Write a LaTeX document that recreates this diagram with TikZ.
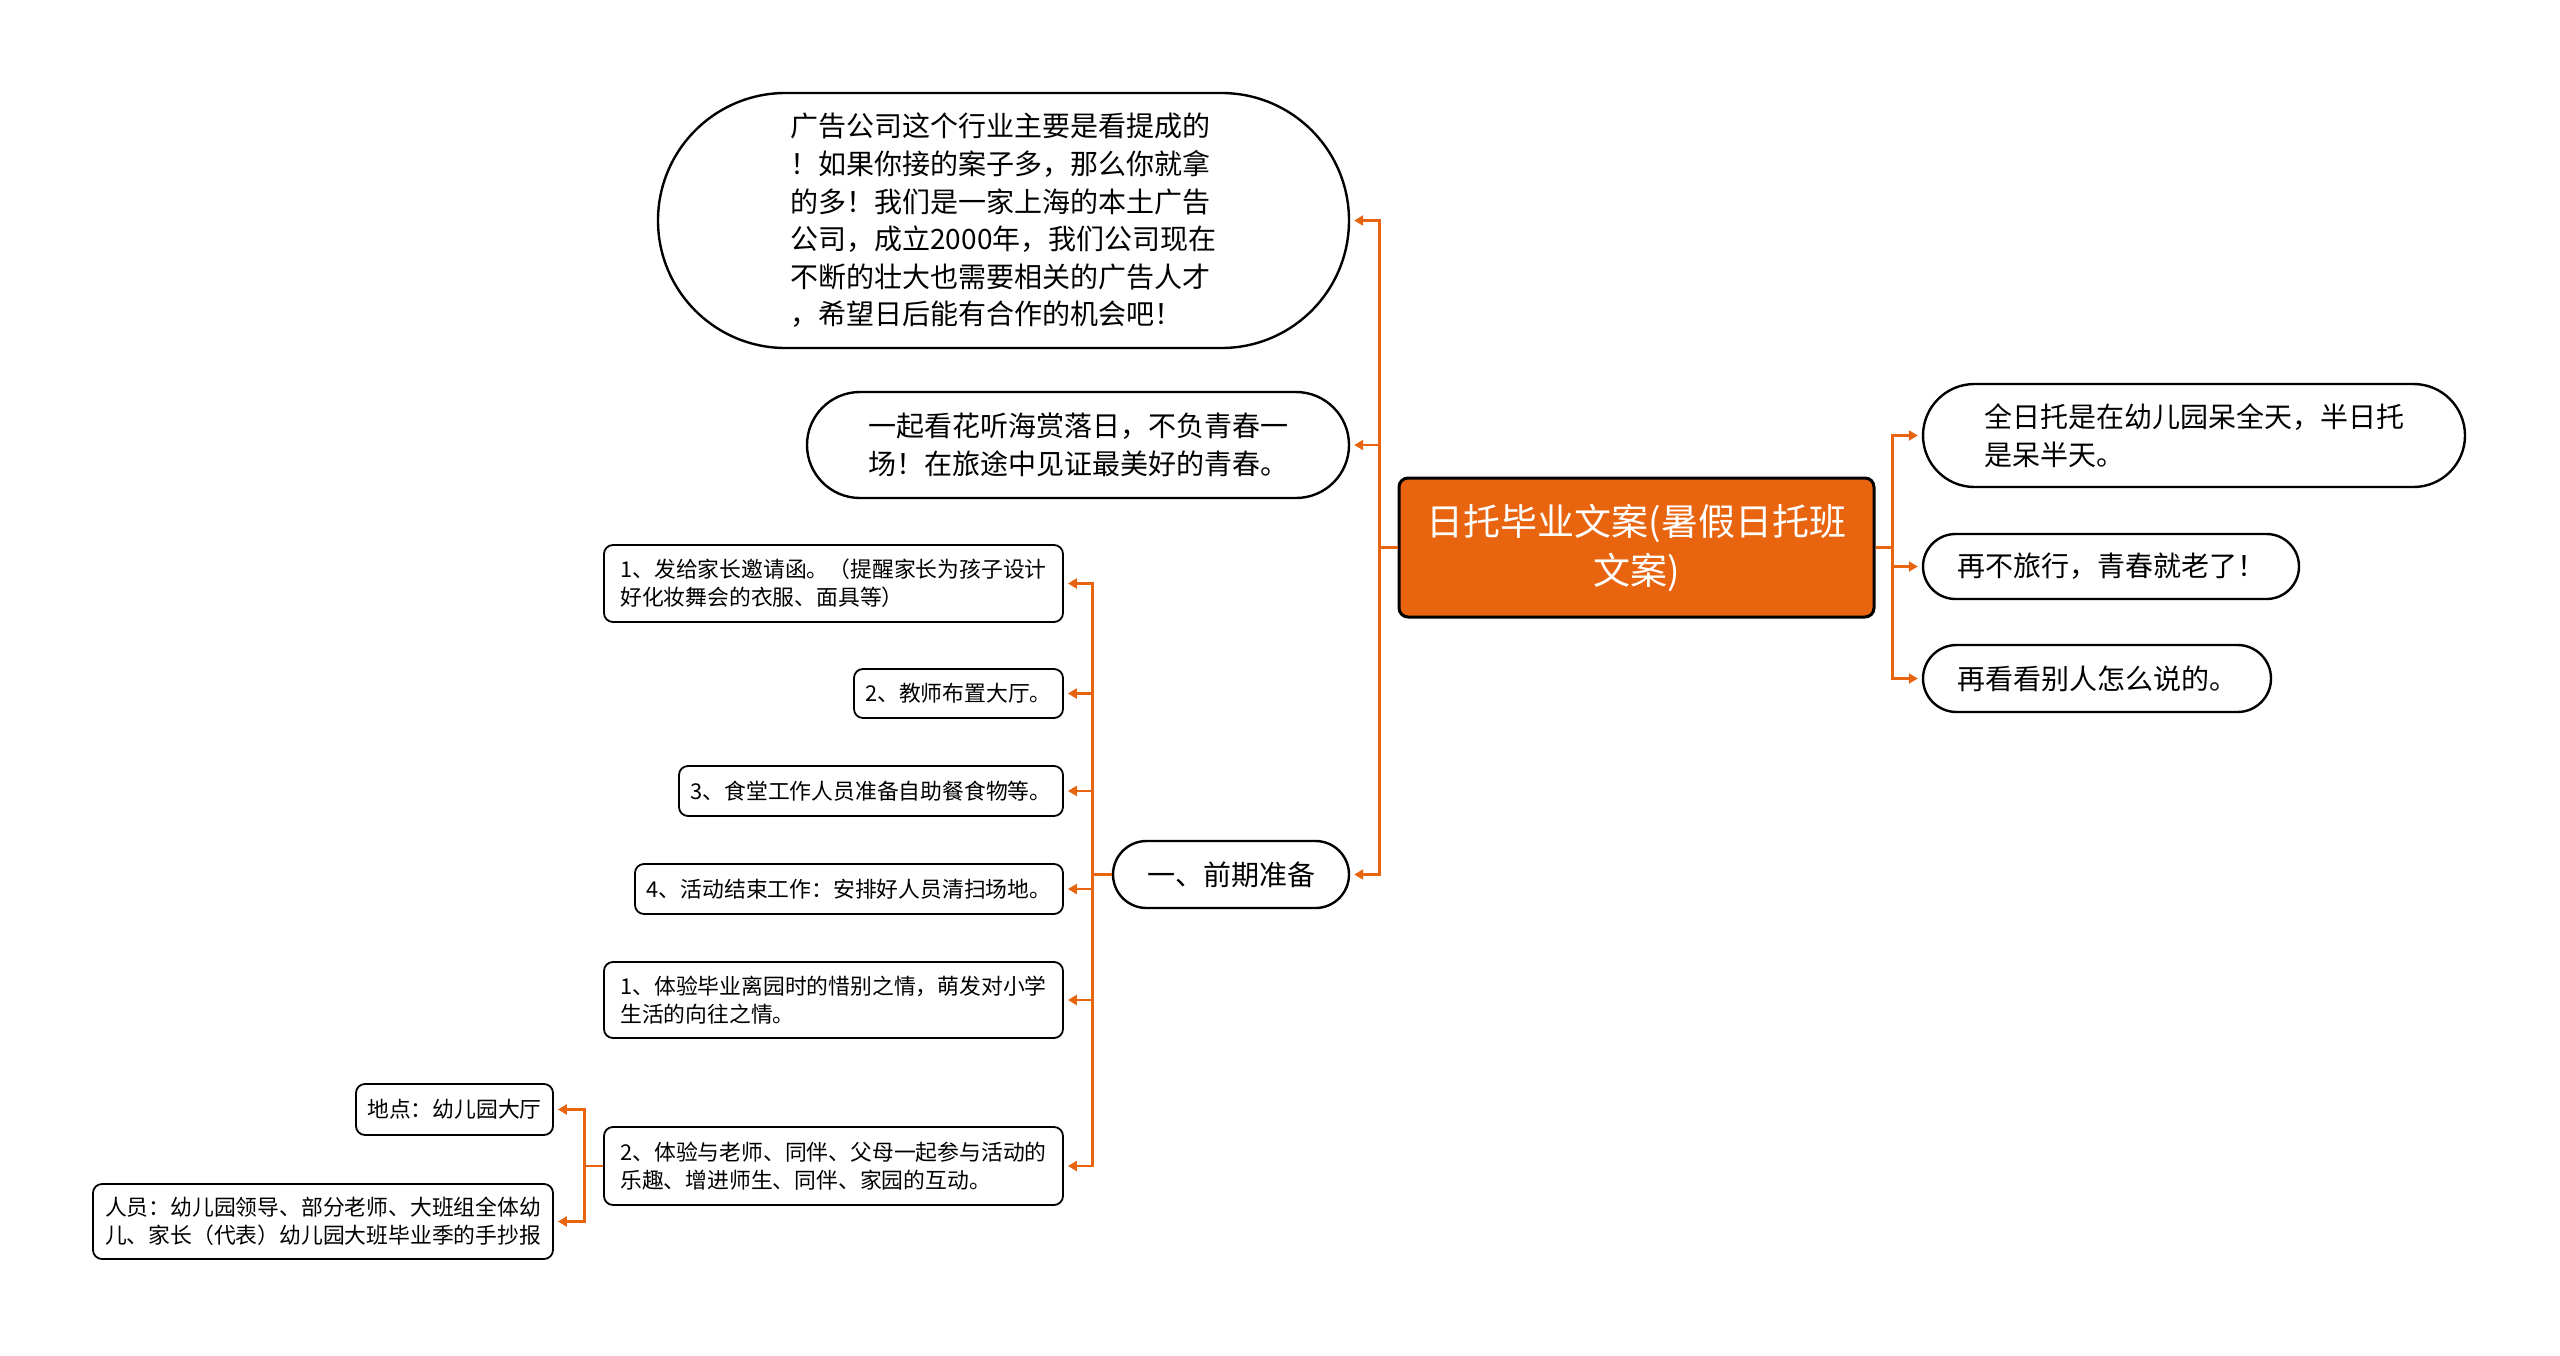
\documentclass[tikz,border=0pt]{standalone}
\usepackage{fontspec}
\newfontfamily\cjk{Noto Sans CJK SC}
\usepackage{xcolor}
\usetikzlibrary{arrows.meta,shapes.misc}
\definecolor{mainorange}{HTML}{E8640F}

\begin{document}
\begin{tikzpicture}[x=1pt, y=-1pt,
  boxsize/.style 2 args={minimum width=#1pt, minimum height=#2pt},
  rootbox/.style={rectangle, rounded corners=9pt, draw=black, line width=3pt, fill=mainorange,
    text=white, align=center, inner sep=0pt, font=\cjk\fontsize{37}{49}\selectfont},
  pill/.style={rounded rectangle, draw=black, line width=2.4pt, fill=white, align=left,
    inner sep=0pt, font=\cjk\fontsize{28}{37.6}\selectfont},
  card/.style={rectangle, rounded corners=9pt, draw=black, line width=1.8pt, fill=white,
    align=left, inner sep=0pt, font=\cjk\fontsize{21.8}{28}\selectfont},
  link/.style={draw=mainorange, line width=2.8pt, -{Triangle[length=9pt,width=10pt]}, shorten >=4pt}]
  \useasboundingbox (0,0) rectangle (2560,1355);

  % Root
  \node[rootbox, boxsize={475}{139}] (root) at (1636.5,547.5) {日托毕业文案(暑假日托班\\文案)};

  % Right branch
  \node[pill, boxsize={542}{103}] (fullday) at (2194,435.5) {全日托是在幼儿园呆全天，半日托\\是呆半天。};
  \node[pill, boxsize={376}{65}] (travel) at (2111,566.5) {再不旅行，青春就老了！};
  \node[pill, boxsize={348}{67}] (others) at (2097,678.5) {再看看别人怎么说的。};

  % Left branch
  \node[pill, boxsize={691}{255}] (adco) at (1003.5,220.5) {广告公司这个行业主要是看提成的\\
    ！如果你接的案子多，那么你就拿\\
    的多！我们是一家上海的本土广告\\
    公司，成立2000年，我们公司现在\\
    不断的壮大也需要相关的广告人才\\
    ，希望日后能有合作的机会吧！};
  \node[pill, boxsize={542}{106}] (youth) at (1078,445) {一起看花听海赏落日，不负青春一\\场！在旅途中见证最美好的青春。};
  \node[pill, boxsize={236}{67}, align=center] (prep) at (1231,874.5) {一、前期准备};

  % Preparation items
  \node[card, boxsize={459}{77}] (invite) at (833.5,583.5) {1、发给家长邀请函。（提醒家长为孩子设计\\好化妆舞会的衣服、面具等）};
  \node[card, boxsize={209}{49}] (hall) at (958.5,693.5) {2、教师布置大厅。};
  \node[card, boxsize={384}{50}] (food) at (871,791) {3、食堂工作人员准备自助餐食物等。};
  \node[card, boxsize={428}{50}] (clean) at (849,889) {4、活动结束工作：安排好人员清扫场地。};
  \node[card, boxsize={459}{76}] (farewell) at (833.5,1000) {1、体验毕业离园时的惜别之情，萌发对小学\\生活的向往之情。};
  \node[card, boxsize={459}{78}] (fun) at (833.5,1166) {2、体验与老师、同伴、父母一起参与活动的\\乐趣、增进师生、同伴、家园的互动。};

  % Place and people
  \node[card, boxsize={197}{51}] (place) at (454.5,1109.5) {地点：幼儿园大厅};
  \node[card, boxsize={460}{75}] (people) at (323,1221.5) {人员：幼儿园领导、部分老师、大班组全体幼\\儿、家长（代表）幼儿园大班毕业季的手抄报};

  % Connectors
  \foreach \child in {fullday,travel,others}
    \draw[link] (root.east) -- ++(17,0) |- (\child.west);
  \foreach \child in {adco,youth,prep}
    \draw[link] (root.west) -- ++(-18,0) |- (\child.east);
  \foreach \child in {invite,hall,food,clean,farewell,fun}
    \draw[link] (prep.west) -- ++(-19,0) |- (\child.east);
  \foreach \child in {place,people}
    \draw[link] (fun.west) -- ++(-19,0) |- (\child.east);
\end{tikzpicture}
\end{document}
